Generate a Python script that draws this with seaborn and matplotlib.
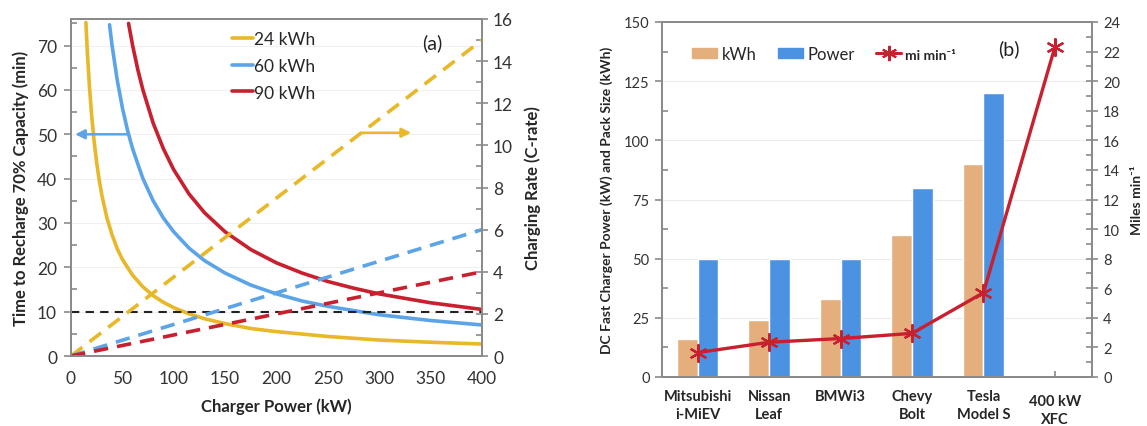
import numpy as np
import pandas as pd
import matplotlib
matplotlib.use("Agg")
import matplotlib.pyplot as plt
import matplotlib.patches as mpatches
import matplotlib.transforms as mtransforms
from matplotlib.lines import Line2D
from matplotlib.ticker import MultipleLocator
import seaborn as sns

# ---------------- Panel (a) data ----------------
p24 = [14.5, 16, 18, 20, 22.5, 25, 27.5, 30, 35, 40, 45, 50, 60, 70, 80, 90, 100, 115, 130, 150,
       175, 200, 250, 300, 350, 400]
t24 = [75.2, 68.1, 60.6, 54.5, 48.4, 43.6, 39.6, 36.3, 31.1, 27.3, 24.2, 21.8, 18.2, 15.6, 13.6,
       12.1, 10.9, 9.5, 8.4, 7.3, 6.2, 5.5, 4.4, 3.6, 3.1, 2.7]
p60 = [37.5, 40, 45, 50, 55, 60, 70, 80, 90, 100, 115, 130, 150, 175, 200, 225, 250, 300, 350, 400]
t60 = [74.7, 70, 62.2, 56, 50.9, 46.7, 40, 35, 31.1, 28, 24.3, 21.5, 18.7, 16, 14, 12.4, 11.2,
       9.3, 8, 7]
p90 = [56, 60, 65, 70, 80, 90, 100, 115, 130, 150, 175, 200, 225, 250, 275, 300, 350, 400]
t90 = [75, 70, 64.6, 60, 52.5, 46.7, 42, 36.5, 32.3, 28, 24, 21, 18.7, 16.8, 15.3, 14, 12, 10.5]
crate_power = [0, 400]
crate24 = [0, 15]
crate60 = [0, 6]
crate90 = [0, 4]
target_power = [0, 400]
target_time = [10, 10]
legend_a = ["24 kWh", "60 kWh", "90 kWh"]

# ---------------- Panel (b) data ----------------
vehicles = ["Mitsubishi\ni-MiEV", "Nissan\nLeaf", "BMWi3", "Chevy\nBolt", "Tesla\nModel S", "400 kW\nXFC"]
pack_kwh = [16, 24, 33, 60, 90, np.nan]
charger_kw = [50, 50, 50, 80, 120, np.nan]
mi_per_min = [1.65, 2.35, 2.6, 2.95, 5.7, 22.3]

# colours
YEL = "#E8B828"
BLU = "#5CA4E8"
RED = "#C8202E"
TAN = "#E4AF7C"
PBLU = "#4C92E2"
SPINE = "#8a8a8a"

sns.set_style("white")
plt.rcParams["font.family"] = ["Lato", "DejaVu Sans"]
plt.rcParams["axes.unicode_minus"] = False

fig = plt.figure(figsize=(11.47, 4.27), dpi=100)

# ======================= Panel (a) =======================
axa = fig.add_axes([71 / 1147, 1 - 357 / 427, (482 - 71) / 1147, (357 - 20) / 427])
axa2 = axa.twinx()

sns.lineplot(x=p24, y=t24, ax=axa, color=YEL, lw=2.6, sort=False, label=legend_a[0])
sns.lineplot(x=p60, y=t60, ax=axa, color=BLU, lw=2.6, sort=False, label=legend_a[1])
sns.lineplot(x=p90, y=t90, ax=axa, color=RED, lw=2.6, sort=False, label=legend_a[2])
sns.lineplot(x=target_power, y=target_time, ax=axa, color="#222222", lw=1.5,
             linestyle=(0, (4, 3)), legend=False)

sns.lineplot(x=crate_power, y=crate24, ax=axa2, color=YEL, lw=2.6, linestyle=(0, (4, 2.5)), legend=False)
sns.lineplot(x=crate_power, y=crate60, ax=axa2, color=BLU, lw=2.6, linestyle=(0, (4, 2.5)), legend=False)
sns.lineplot(x=crate_power, y=crate90, ax=axa2, color=RED, lw=2.6, linestyle=(0, (4, 2.5)), legend=False)

axa.set_xlim(0, 400)
axa.set_ylim(0, 76)
axa2.set_ylim(0, 16)

axa.xaxis.set_major_locator(MultipleLocator(50))
axa.xaxis.set_minor_locator(MultipleLocator(25))
axa.yaxis.set_major_locator(MultipleLocator(10))
axa.yaxis.set_minor_locator(MultipleLocator(5))
axa2.yaxis.set_major_locator(MultipleLocator(2))
axa2.yaxis.set_minor_locator(MultipleLocator(1))

axa.grid(axis="y", color="#f0f0f0", lw=0.8)
axa.set_axisbelow(True)

for ax in (axa, axa2):
    for s in ax.spines.values():
        s.set_color(SPINE)
        s.set_linewidth(1.3)

axa.tick_params(axis="x", which="major", direction="inout", length=8, width=1.2, color=SPINE,
                labelsize=12.5, pad=6, labelcolor="#333333")
axa.tick_params(axis="x", which="minor", direction="in", length=4, width=1.2, color=SPINE)
axa.tick_params(axis="y", which="major", direction="out", length=5, width=1.2, color=SPINE,
                labelsize=12.5, pad=5, labelcolor="#333333", left=True)
axa.tick_params(axis="y", which="minor", direction="in", length=4, width=1.2, color=SPINE, left=True)
axa2.tick_params(axis="y", which="major", direction="inout", length=8, width=1.2, color=SPINE,
                 labelsize=12.5, pad=4, labelcolor="#333333")
axa2.tick_params(axis="y", which="minor", direction="in", length=4, width=1.2, color=SPINE)

axa.set_xlabel("Charger Power (kW)", fontsize=12, fontweight="bold", labelpad=8)
axa.set_ylabel("Time to Recharge 70% Capacity (min)", fontsize=12, fontweight="bold", labelpad=6)
axa2.set_ylabel("Charging Rate (C-rate)", fontsize=12, fontweight="bold", labelpad=8)

leg = axa.legend(loc="upper left", bbox_to_anchor=(0.375, 0.985), frameon=False, fontsize=12.5,
                 handlelength=1.2, handletextpad=0.05, labelspacing=0.62, borderaxespad=0)

axa.text(352, 70.7, "(a)", fontsize=14, ha="center", va="center", color="#222222")

axa.annotate("", xy=(4, 50), xytext=(55, 50),
             arrowprops=dict(arrowstyle="-|>", color=BLU, lw=1.8, mutation_scale=14, shrinkA=0, shrinkB=0))
axa2.annotate("", xy=(331, 10.6), xytext=(283, 10.6),
              arrowprops=dict(arrowstyle="-|>", color=YEL, lw=1.8, mutation_scale=14, shrinkA=0, shrinkB=0))

# ======================= Panel (b) =======================
axb = fig.add_axes([662 / 1147, 1 - 378 / 427, (1092 - 662) / 1147, (378 - 23) / 427])
axb2 = axb.twinx()

df = pd.DataFrame({
    "vehicle": vehicles * 2,
    "series": ["kWh"] * len(vehicles) + ["Power"] * len(vehicles),
    "value": pack_kwh + charger_kw,
})
sns.barplot(data=df, x="vehicle", y="value", hue="series", order=vehicles,
            hue_order=["kWh", "Power"], palette=[TAN, PBLU], width=0.58, saturation=1,
            errorbar=None, legend=False, ax=axb)

xpos = np.arange(len(vehicles))
sns.lineplot(x=xpos, y=mi_per_min, ax=axb2, color=RED, lw=2.4, marker=(6, 2, 0), markersize=13,
             markeredgecolor=RED, markeredgewidth=1.6, legend=False)

axb.set_xlim(-0.5, 5.52)
axb.set_ylim(0, 150)
axb2.set_ylim(0, 24)
axb.yaxis.set_major_locator(MultipleLocator(25))
axb.yaxis.set_minor_locator(MultipleLocator(12.5))
axb2.yaxis.set_major_locator(MultipleLocator(2))
axb2.yaxis.set_minor_locator(MultipleLocator(1))

axb.grid(axis="y", color="#ececec", lw=0.8)
axb.set_axisbelow(True)

for ax in (axb, axb2):
    for s in ax.spines.values():
        s.set_color(SPINE)
        s.set_linewidth(1.3)

axb.tick_params(axis="x", which="major", direction="in", length=4, width=1.2, color=SPINE,
                labelsize=10.5, pad=9, bottom=True)
axb.tick_params(axis="y", which="major", direction="out", length=5, width=1.2, color=SPINE,
                labelsize=10.5, pad=4, labelcolor="#333333", left=True)
axb.tick_params(axis="y", which="minor", direction="in", length=4, width=1.2, color=SPINE, left=True)
axb2.tick_params(axis="y", which="major", direction="inout", length=8, width=1.2, color=SPINE,
                 labelsize=10.5, pad=4, labelcolor="#333333")
axb2.tick_params(axis="y", which="minor", direction="in", length=4, width=1.2, color=SPINE)

for lab in axb.get_xticklabels():
    lab.set_fontweight("bold")
    lab.set_linespacing(1.35)
last = axb.get_xticklabels()[-1]
last.set_transform(last.get_transform() + mtransforms.ScaledTranslation(0, -5 / 100, fig.dpi_scale_trans))

axb.set_xlabel("")
axb.set_ylabel("DC Fast Charger Power (kW) and Pack Size (kWh)", fontsize=10, fontweight="bold", labelpad=8)
axb2.set_ylabel("Miles min⁻¹", fontsize=10, fontweight="bold", labelpad=8,
                family=["Lato", "DejaVu Sans"])

handles = [mpatches.Patch(color=TAN), mpatches.Patch(color=PBLU),
           Line2D([], [], color=RED, lw=2.2, marker=(6, 2, 0), markersize=11, markeredgewidth=1.5)]
legb = axb.legend(handles, ["kWh", "Power", "mi min⁻¹"], loc="center left", bbox_to_anchor=(0.055, 0.91),
                  ncol=3, frameon=False, fontsize=12, handlelength=1.5, handleheight=0.6,
                  handletextpad=0.25, columnspacing=1.3, borderaxespad=0)
for t in legb.get_texts()[2:]:
    t.set_fontweight("bold")
    t.set_fontsize(10)

axb.text(4.35, 139, "(b)", fontsize=14, ha="center", va="center", color="#222222")

fig.savefig("out.png", dpi=100)
